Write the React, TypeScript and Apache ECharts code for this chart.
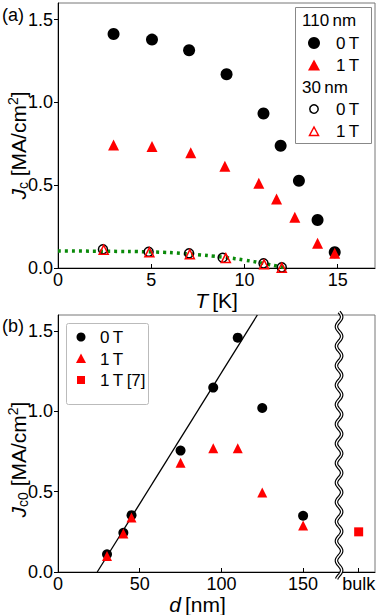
import React, { useEffect, useRef } from "react";
import * as echarts from "echarts";

// Panel (a): Jc vs T
const tempThick0T = [2.98, 5.04, 7.03, 9.04, 11.02, 11.94, 12.92, 13.92, 14.84];
const jcThick0T = [1.413, 1.379, 1.315, 1.17, 0.933, 0.738, 0.527, 0.29, 0.095];
const tempThick1T = [2.98, 5.04, 7.12, 8.95, 10.77, 11.72, 12.7, 13.92, 14.84];
const jcThick1T = [0.742, 0.733, 0.696, 0.615, 0.511, 0.416, 0.306, 0.149, 0.089];
const tempThin0T = [2.41, 4.86, 7.03, 8.83, 11.02, 12.0];
const jcThin0T = [0.113, 0.098, 0.089, 0.062, 0.028, 0.004];
const tempThin1T = [2.45, 4.9, 7.07, 9.0, 11.05, 12.0];
const jcThin1T = [0.11, 0.095, 0.083, 0.06, 0.022, 0.002];
const fitT = [0, 2.5, 5, 7, 9, 10, 11, 12, 12.2];
const fitJc = [0.103, 0.101, 0.097, 0.085, 0.063, 0.048, 0.028, 0.006, 0];
const tTicks = [0, 5, 10, 15];
const jTicks = [0, 0.5, 1.0, 1.5];

// Panel (b): Jc0 vs d
const d0T = [30, 40, 45, 75, 95, 110, 125, 150];
const jc00T = [0.11, 0.244, 0.354, 0.756, 1.148, 1.459, 1.021, 0.35];
const d1T = [30, 40, 45, 75, 95, 110, 125, 150];
const jc01T = [0.1, 0.24, 0.34, 0.68, 0.77, 0.77, 0.495, 0.29];
const bulkD = 184;
const jcBulk1T = [0.25];
const lineD = [24, 122];
const lineJc = [0, 1.6];
const breakD = 172;
const dTicks = [0, 50, 100, 150, bulkD];

const FONT = "Liberation Sans, Arial, sans-serif";
const RED = "#ff0000";

const zip = (a: number[], b: number[]) => a.map((v, i) => [v, b[i]]);

export default function App() {
  const ref = useRef<HTMLDivElement>(null);
  useEffect(() => {
    if (!ref.current) return;
    const chart = echarts.init(ref.current, null, { renderer: "svg" });
    const yName = (sub: string) => `{i|J}{sub|${sub}} [MA/cm{sup|2}]`;
    const nameRich = {
      i: { fontStyle: "italic", fontSize: 21, fontFamily: FONT, color: "#000" },
      sub: { fontSize: 14, fontFamily: FONT, color: "#000", padding: [9, 0, 0, 0] },
      sup: { fontSize: 14, fontFamily: FONT, color: "#000", padding: [0, 0, 10, 0] },
    };
    const baseAxis = {
      axisLine: { show: true, lineStyle: { color: "#000", width: 1 } },
      splitLine: { show: false },
      axisLabel: { color: "#000", fontSize: 18, fontFamily: FONT },
      nameTextStyle: { color: "#000", fontSize: 21, fontFamily: FONT, rich: nameRich },
    };
    const op = { opacity: 1 };
    const option: any = {
      animation: false,
      backgroundColor: "#fff",
      grid: [
        { left: 58, right: 7, top: 3, height: 265, show: true, borderColor: "#777", borderWidth: 1, containLabel: false, outerBoundsMode: "none" },
        { left: 58, right: 7, top: 315, height: 257, show: true, borderColor: "#777", borderWidth: 1, containLabel: false, outerBoundsMode: "none" },
      ],
      xAxis: [
        {
          ...baseAxis,
          type: "value",
          gridIndex: 0,
          min: 0,
          max: 17,
          axisTick: { show: true, inside: true, length: 4, customValues: tTicks, lineStyle: { color: "#000" } },
          axisLabel: { ...baseAxis.axisLabel, margin: 3, customValues: tTicks },
          name: "{i|T}\u2009[K]",
          nameLocation: "middle",
          nameGap: 19,
        },
        {
          ...baseAxis,
          type: "value",
          gridIndex: 1,
          min: 0,
          max: 194,
          axisTick: { show: true, inside: true, length: 4, customValues: dTicks, lineStyle: { color: "#000" } },
          axisLabel: {
            ...baseAxis.axisLabel,
            margin: 3,
            customValues: dTicks,
            formatter: (v: number) => (v === bulkD ? "bulk" : String(v)),
          },
          name: "{i|d}\u2009[nm]",
          nameLocation: "middle",
          nameGap: 19,
          nameTextStyle: { ...baseAxis.nameTextStyle, padding: [0, 38, 0, 0] },
        },
      ],
      yAxis: [
        {
          ...baseAxis,
          type: "value",
          gridIndex: 0,
          min: 0,
          max: 1.6,
          axisTick: { show: true, inside: false, length: 4, customValues: jTicks, lineStyle: { color: "#000" } },
          axisLabel: { ...baseAxis.axisLabel, margin: 5, customValues: jTicks, formatter: (v: number) => v.toFixed(1) },
          name: yName("c"),
          nameLocation: "middle",
          nameGap: 28,
          nameMoveOverlap: false,
          nameRotate: 90,
          nameTextStyle: { ...baseAxis.nameTextStyle, padding: [0, 20, 0, 0] },
        },
        {
          ...baseAxis,
          type: "value",
          gridIndex: 1,
          min: 0,
          max: 1.6,
          axisTick: { show: true, inside: false, length: 4, customValues: jTicks, lineStyle: { color: "#000" } },
          axisLabel: { ...baseAxis.axisLabel, margin: 5, customValues: jTicks, formatter: (v: number) => v.toFixed(1) },
          name: yName("c0"),
          nameLocation: "middle",
          nameGap: 28,
          nameMoveOverlap: false,
          nameRotate: 90,
          nameTextStyle: { ...baseAxis.nameTextStyle, padding: [0, 32, 0, 0] },
        },
      ],
      series: [
        {
          type: "line",
          xAxisIndex: 0,
          yAxisIndex: 0,
          data: zip(fitT, fitJc),
          symbol: "none",
          smooth: true,
          lineStyle: { color: "#0a8a0a", width: 3.5, type: [3, 4] },
          z: 1,
        },
        {
          type: "scatter",
          xAxisIndex: 0,
          yAxisIndex: 0,
          data: zip(tempThin0T, jcThin0T),
          symbol: "circle",
          symbolSize: 9,
          itemStyle: { ...op, color: "transparent", borderColor: "#000", borderWidth: 1.5 },
          z: 2,
        },
        {
          type: "scatter",
          xAxisIndex: 0,
          yAxisIndex: 0,
          data: zip(tempThin1T, jcThin1T),
          symbol: "triangle",
          symbolSize: 9,
          itemStyle: { ...op, color: "transparent", borderColor: RED, borderWidth: 1.5 },
          z: 3,
        },
        {
          type: "scatter",
          xAxisIndex: 0,
          yAxisIndex: 0,
          data: zip(tempThick0T, jcThick0T),
          symbol: "circle",
          symbolSize: 12,
          itemStyle: { ...op, color: "#000" },
          z: 3,
        },
        {
          type: "scatter",
          xAxisIndex: 0,
          yAxisIndex: 0,
          data: zip(tempThick1T, jcThick1T),
          symbol: "triangle",
          symbolSize: 11,
          itemStyle: { ...op, color: RED },
          z: 3,
        },
        {
          type: "line",
          xAxisIndex: 1,
          yAxisIndex: 1,
          data: zip(lineD, lineJc),
          symbol: "none",
          lineStyle: { color: "#000", width: 1.3 },
          z: 1,
        },
        {
          type: "scatter",
          xAxisIndex: 1,
          yAxisIndex: 1,
          data: zip(d0T, jc00T),
          symbol: "circle",
          symbolSize: 10,
          itemStyle: { ...op, color: "#000" },
          z: 2,
        },
        {
          type: "scatter",
          xAxisIndex: 1,
          yAxisIndex: 1,
          data: zip(d1T, jc01T),
          symbol: "triangle",
          symbolSize: 10,
          itemStyle: { ...op, color: RED },
          z: 3,
        },
        {
          type: "scatter",
          xAxisIndex: 1,
          yAxisIndex: 1,
          data: [[bulkD, jcBulk1T[0]]],
          symbol: "rect",
          symbolSize: 9,
          itemStyle: { ...op, color: RED },
          z: 3,
        },
        {
          type: "custom",
          xAxisIndex: 1,
          yAxisIndex: 1,
          data: [[breakD, 0]],
          silent: true,
          clip: false,
          z: 10,
          renderItem: (params: any, api: any) => {
            const b = api.coord([breakD, 0]);
            const t = api.coord([breakD, 1.6]);
            const x = b[0];
            const yt = t[1] - 3;
            const yb = b[1] + 7;
            const pts: number[][] = [];
            const n = 240;
            for (let i = 0; i <= n; i++) {
              const y = yt + ((yb - yt) * i) / n;
              pts.push([x + 2.6 * Math.sin(((y - yt) / 19.5) * 2 * Math.PI), y]);
            }
            return {
              type: "group",
              children: [
                { type: "polyline", shape: { points: pts }, style: { stroke: "#000", lineWidth: 3.6, fill: "none" } },
                { type: "polyline", shape: { points: pts }, style: { stroke: "#fff", lineWidth: 1.3, fill: "none" } },
              ],
            };
          },
        },
      ],
      graphic: [
        { type: "text", left: 2, top: 6, style: { text: "(a)", fontSize: 18, fontFamily: FONT, fill: "#000" } },
        { type: "text", left: 2, top: 317, style: { text: "(b)", fontSize: 18, fontFamily: FONT, fill: "#000" } },
        // legend (a)
        {
          type: "group",
          z: 20,
          children: [
            { type: "rect", shape: { x: 295.5, y: 7.5, width: 76, height: 136 }, style: { fill: "#fff", stroke: "#888", lineWidth: 1 } },
            { type: "text", x: 302, y: 20, style: { text: "110\u2009nm", fontSize: 17, fontFamily: FONT, fill: "#000", verticalAlign: "middle" } },
            { type: "circle", shape: { cx: 314, cy: 43, r: 6 }, style: { fill: "#000" } },
            { type: "text", x: 336, y: 43, style: { text: "0\u2009T", fontSize: 17, fontFamily: FONT, fill: "#000", verticalAlign: "middle" } },
            { type: "polygon", shape: { points: [[314, 59.5], [320, 70.5], [308, 70.5]] }, style: { fill: RED } },
            { type: "text", x: 336, y: 65, style: { text: "1\u2009T", fontSize: 17, fontFamily: FONT, fill: "#000", verticalAlign: "middle" } },
            { type: "text", x: 302, y: 87, style: { text: "30\u2009nm", fontSize: 17, fontFamily: FONT, fill: "#000", verticalAlign: "middle" } },
            { type: "circle", shape: { cx: 314, cy: 109, r: 4.2 }, style: { fill: "none", stroke: "#000", lineWidth: 1.5 } },
            { type: "text", x: 336, y: 109, style: { text: "0\u2009T", fontSize: 17, fontFamily: FONT, fill: "#000", verticalAlign: "middle" } },
            { type: "polygon", shape: { points: [[314, 127], [318.5, 135.5], [309.5, 135.5]] }, style: { fill: "none", stroke: RED, lineWidth: 1.5 } },
            { type: "text", x: 336, y: 131, style: { text: "1\u2009T", fontSize: 17, fontFamily: FONT, fill: "#000", verticalAlign: "middle" } },
          ],
        },
        // legend (b)
        {
          type: "group",
          z: 20,
          children: [
            { type: "rect", shape: { x: 66.5, y: 323.5, width: 82, height: 81, r: 2 }, style: { fill: "#fff", stroke: "#bbb", lineWidth: 1 } },
            { type: "circle", shape: { cx: 81, cy: 337, r: 4.5 }, style: { fill: "#000" } },
            { type: "text", x: 100, y: 337, style: { text: "0\u2009T", fontSize: 17, fontFamily: FONT, fill: "#000", verticalAlign: "middle" } },
            { type: "polygon", shape: { points: [[81, 353.5], [86, 363], [76, 363]] }, style: { fill: RED } },
            { type: "text", x: 100, y: 359, style: { text: "1\u2009T", fontSize: 17, fontFamily: FONT, fill: "#000", verticalAlign: "middle" } },
            { type: "rect", shape: { x: 77, y: 376, width: 8, height: 8 }, style: { fill: RED } },
            { type: "text", x: 100, y: 380, style: { text: "1\u2009T\u2009[7]", fontSize: 17, fontFamily: FONT, fill: "#000", verticalAlign: "middle" } },
          ],
        },
      ],
    };
    chart.setOption(option);
    return () => chart.dispose();
  }, []);
  return (
    <div
      ref={ref}
      style={{ position: "fixed", left: 0, top: 0, width: 382, height: 615, background: "#fff" }}
    />
  );
}
